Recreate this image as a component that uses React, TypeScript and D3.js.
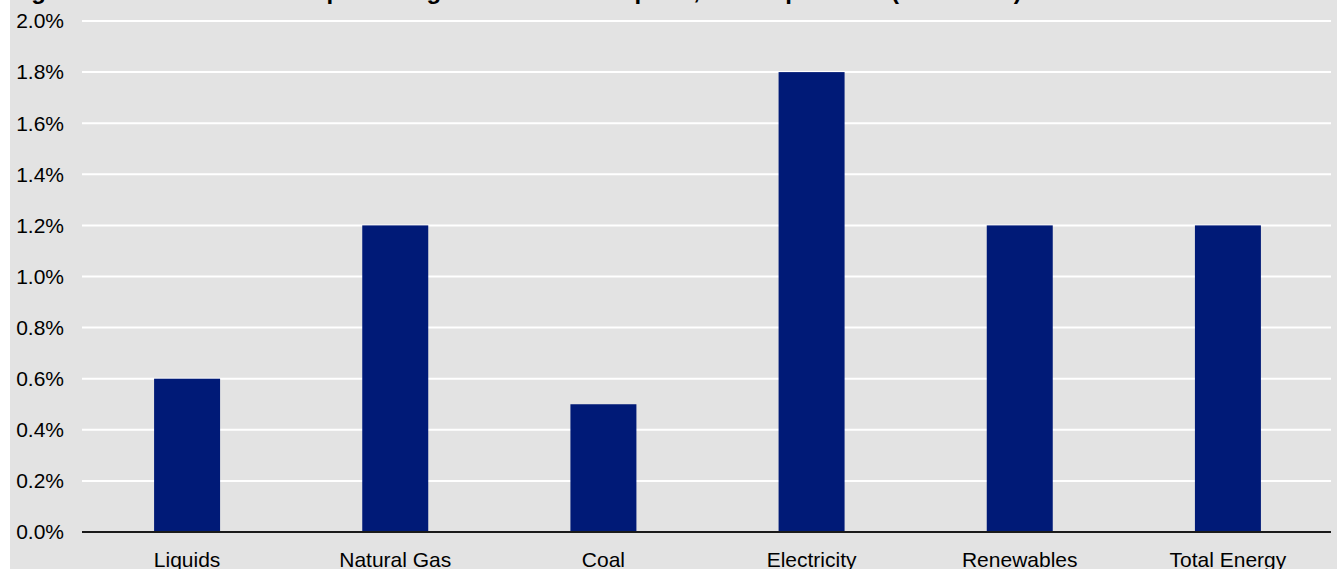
import React from "react";
import * as d3 from "d3";

const categories = ["Liquids", "Natural Gas", "Coal", "Electricity", "Renewables", "Total Energy"];
const values = [0.6, 1.2, 0.5, 1.8, 1.2, 1.2];
const yTicks = [0, 0.2, 0.4, 0.6, 0.8, 1.0, 1.2, 1.4, 1.6, 1.8, 2.0];
const titleText = "Figure 4: Estimated Annual percentage rise in Consumption, Developed Asia (2010-2035)";

const W = 1337;
const H = 569;
const FONT = "'Liberation Sans', Arial, sans-serif";

export default function App() {
  const x = d3.scaleBand<string>().domain(categories).range([83, 1332]).padding(0);
  const y = d3.scaleLinear().domain([0, 2.0]).range([532, 21]);
  const barW = x.bandwidth() * 0.317;
  const fmt = d3.format(".1f");

  return (
    <svg
      width={W}
      height={H}
      style={{ position: "fixed", left: 0, top: 0, display: "block" }}
      fontFamily={FONT}
    >
      <rect x={0} y={0} width={W} height={H} fill="#ffffff" />
      <rect x={10} y={0} width={W - 10} height={H} fill="#e3e3e3" />
      <text x={10} y={-1} fontSize={24} fontWeight="bold" fill="#000">
        {titleText}
      </text>
      {yTicks.map((t) => (
        <g key={t}>
          {t > 0 && (
            <line x1={82} x2={1331} y1={y(t)} y2={y(t)} stroke="#ffffff" strokeWidth={2} />
          )}
          <text x={64} y={y(t)} dy="0.35em" textAnchor="end" fontSize={21} fill="#000">
            {fmt(t) + "%"}
          </text>
        </g>
      ))}
      {categories.map((c, i) => (
        <rect
          key={c}
          x={(x(c) as number) + x.bandwidth() / 2 - barW / 2}
          y={y(values[i])}
          width={barW}
          height={y(0) - y(values[i])}
          fill="#001a77"
        />
      ))}
      <line x1={82} x2={1331} y1={y(0)} y2={y(0)} stroke="#1a1a1a" strokeWidth={2} />
      {categories.map((c) => (
        <text
          key={c}
          x={(x(c) as number) + x.bandwidth() / 2}
          y={567}
          textAnchor="middle"
          fontSize={21}
          fill="#000"
        >
          {c}
        </text>
      ))}
    </svg>
  );
}
